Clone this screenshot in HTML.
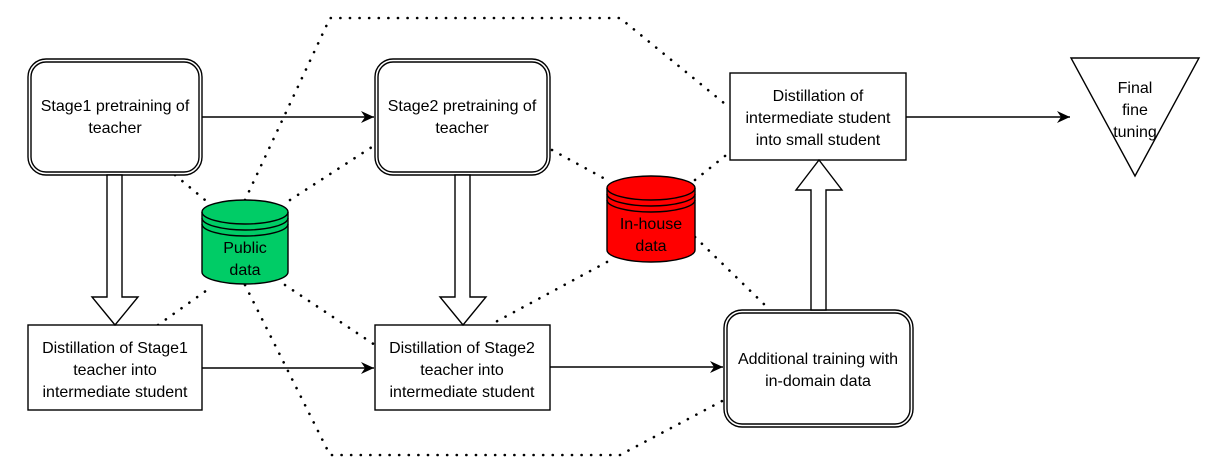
<!DOCTYPE html>
<html><head><meta charset="utf-8"><style>
body{margin:0;background:#fff}
svg text{font-family:"Liberation Sans",Arial,sans-serif;font-size:16px;fill:#000;text-anchor:middle}
</style></head><body>
<svg width="1218" height="464" viewBox="0 0 1218 464" xmlns="http://www.w3.org/2000/svg">
<defs><marker id="a" markerWidth="14" markerHeight="12" refX="13" refY="6" orient="auto" markerUnits="userSpaceOnUse"><path d="M0,0 L13,6 L0,12 L4,6 Z" fill="#000"/></marker></defs>
<g fill="none" stroke="#000" stroke-width="2.6" stroke-dasharray="0.1 9.5" stroke-linecap="round">
<polyline points="245,200 330,18 620,18 730,108"/>
<polyline points="245,285 330,455 620,455 724,400"/>
<line x1="175" y1="175" x2="205" y2="200"/>
<line x1="290" y1="200" x2="375" y2="145"/>
<line x1="158" y1="325" x2="210" y2="288"/>
<line x1="285" y1="285" x2="375" y2="345"/>
<line x1="552" y1="150" x2="607" y2="180"/>
<line x1="695" y1="180" x2="730" y2="152"/>
<line x1="607" y1="262" x2="490" y2="325"/>
<line x1="695" y1="237" x2="770" y2="310"/>
</g>
<g fill="#fff" stroke="#000" stroke-width="1.4">
<rect x="28" y="59" width="174" height="116" rx="18"/><rect x="31" y="62" width="168" height="110" rx="15"/>
<rect x="375" y="59" width="175" height="116" rx="18"/><rect x="378" y="62" width="169" height="110" rx="15"/>
<rect x="724" y="310" width="189" height="117" rx="18"/><rect x="727" y="313" width="183" height="111" rx="15"/>
<rect x="730" y="73" width="176" height="87"/>
<rect x="28" y="325" width="174" height="85"/>
<rect x="375" y="325" width="175" height="85"/>
<path d="M1071,58 L1199,58 L1135,176 Z"/>
<path d="M107,175 V297 H92 L115,325 L138,297 H122 V175 Z"/>
<path d="M455,175 V297 H440 L463,325 L486,297 H470 V175 Z"/>
<path d="M811,310 V190 H796 L819,160 L842,190 H826 V310 Z"/>
</g>
<g stroke="#000" stroke-width="1.4" fill="none">
<line x1="202" y1="117" x2="374" y2="117" marker-end="url(#a)"/>
<line x1="906" y1="117" x2="1070" y2="117" marker-end="url(#a)"/>
<line x1="202" y1="368" x2="374" y2="368" marker-end="url(#a)"/>
<line x1="550" y1="367" x2="723" y2="367" marker-end="url(#a)"/>
</g>
<g stroke="#000" stroke-width="1.4">
<path d="M202,212 V272 A43,12 0 0 0 288,272 V212 A43,12 0 0 0 202,212 Z" fill="#00CC66"/>
<path d="M202,212 A43,12 0 0 0 288,212 M202,218 A43,12 0 0 0 288,218 M202,224 A43,12 0 0 0 288,224" fill="none"/>
<path d="M607,188 V250 A44,12 0 0 0 695,250 V188 A44,12 0 0 0 607,188 Z" fill="#FF0000"/>
<path d="M607,188 A44,12 0 0 0 695,188 M607,194 A44,12 0 0 0 695,194 M607,200 A44,12 0 0 0 695,200" fill="none"/>
</g>
<text x="115" y="111">Stage1 pretraining of</text><text x="115" y="133">teacher</text>
<text x="462" y="111">Stage2 pretraining of</text><text x="462" y="133">teacher</text>
<text x="818" y="101">Distillation of</text><text x="818" y="123">intermediate student</text><text x="818" y="145">into small student</text>
<text x="1135" y="93">Final</text><text x="1135" y="115">fine</text><text x="1135" y="137">tuning</text>
<text x="245" y="253">Public</text><text x="245" y="275">data</text>
<text x="651" y="229">In-house</text><text x="651" y="251">data</text>
<text x="115" y="353">Distillation of Stage1</text><text x="115" y="375">teacher into</text><text x="115" y="397">intermediate student</text>
<text x="462" y="353">Distillation of Stage2</text><text x="462" y="375">teacher into</text><text x="462" y="397">intermediate student</text>
<text x="818" y="364">Additional training with</text><text x="818" y="386">in-domain data</text>
</svg>
</body></html>
